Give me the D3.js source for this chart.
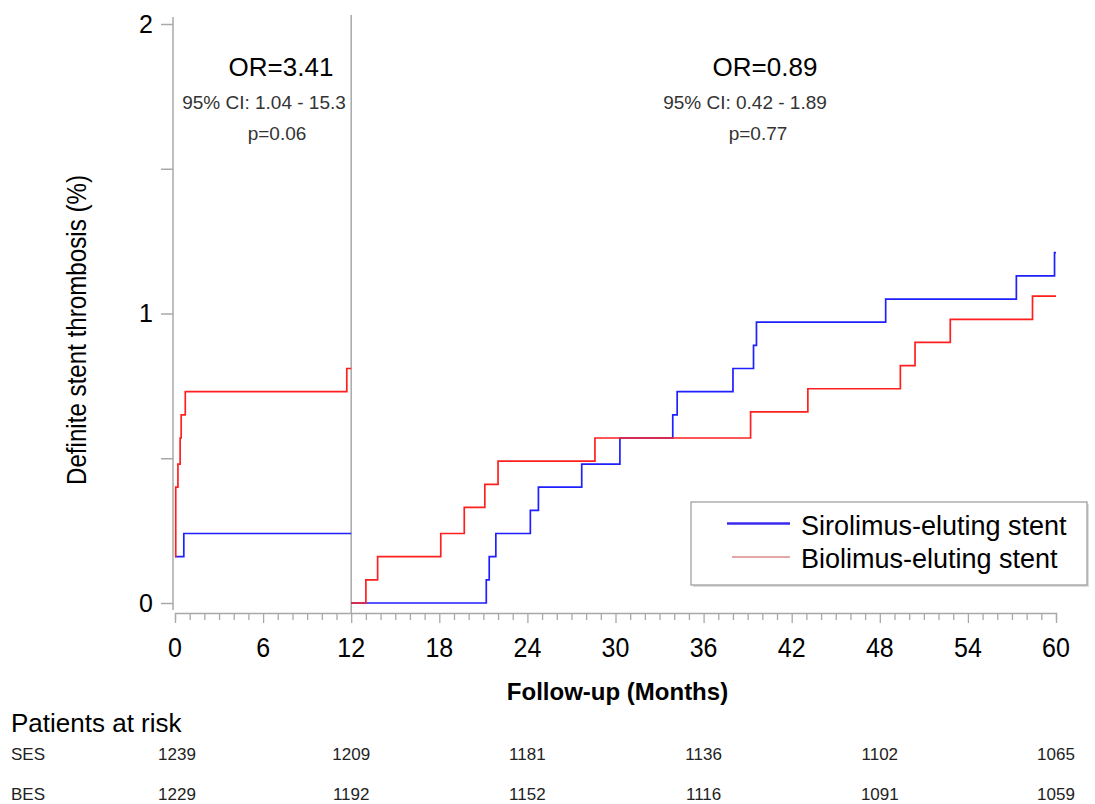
<!DOCTYPE html>
<html>
<head>
<meta charset="utf-8">
<script src="https://cdn.jsdelivr.net/npm/d3@7"></script>
<style>
  body { margin: 0; background: #fff; }
  svg { display: block; font-family: "Liberation Sans", Arial, sans-serif; }
</style>
</head>
<body>
<div id="chart"></div>
<script>
// first year (0-12 months), cumulative definite stent thrombosis in %
const sesYear1Months = [0, 0.6, 12];
const sesYear1Pct = [0.16, 0.24, 0.24];
const besYear1Months = [0, 0.05, 0.2, 0.35, 0.42, 0.7, 11.7, 12];
const besYear1Pct = [0.16, 0.40, 0.48, 0.57, 0.65, 0.73, 0.81, 0.81];

// landmark analysis from 12 to 60 months
const sesLateMonths = [12, 21.2, 21.4, 21.85, 24.2, 24.75, 27.7, 30.3, 33.9, 34.2, 38.0, 39.4, 39.6, 48.4, 57.3, 59.9, 60];
const sesLatePct = [0, 0.08, 0.16, 0.24, 0.32, 0.40, 0.48, 0.57, 0.65, 0.73, 0.81, 0.89, 0.97, 1.05, 1.13, 1.21, 1.21];
const besLateMonths = [12, 13.0, 13.8, 18.1, 19.7, 21.1, 22.0, 28.6, 39.2, 43.1, 49.4, 50.4, 52.8, 58.4, 60];
const besLatePct = [0, 0.08, 0.16, 0.24, 0.33, 0.41, 0.49, 0.57, 0.66, 0.74, 0.82, 0.90, 0.98, 1.06, 1.06];

const xTicks = [0, 6, 12, 18, 24, 30, 36, 42, 48, 54, 60];
const yTicks = [0, 1, 2];

const riskMonths = [0, 12, 24, 36, 48, 60];
const sesAtRisk = [1239, 1209, 1181, 1136, 1102, 1065];
const besAtRisk = [1229, 1192, 1152, 1116, 1091, 1059];

const seriesNames = ["Sirolimus-eluting stent", "Biolimus-eluting stent"];
const early = ["OR=3.41", "95% CI: 1.04 - 15.3", "p=0.06"];
const late = ["OR=0.89", "95% CI: 0.42 - 1.89", "p=0.77"];

const width = 1095, height = 804;
const blue = "#1f1fff", red = "#ff1f1f", axisGrey = "#a8a8a8";

const x = d3.scaleLinear().domain([0, 60]).range([175, 1056]);
const y = d3.scaleLinear().domain([0, 2]).range([603, 24]);

const svg = d3.select("#chart").append("svg")
    .attr("width", width)
    .attr("height", height);

// y axis
const yAxis = svg.append("g")
    .attr("transform", "translate(173,0)")
    .call(d3.axisLeft(y).tickValues(d3.range(0, 2.01, 0.5)).tickSize(12).tickPadding(8)
        .tickFormat(d => yTicks.includes(d) ? d : ""));
yAxis.select(".domain").attr("d", "M0,17V610");
yAxis.selectAll("line, .domain").attr("stroke", axisGrey).attr("stroke-width", 1.5);
yAxis.selectAll("text").attr("font-size", 25).attr("fill", "#000").attr("font-family", null);

// x axis: minor ticks each month, labels every 6
const xAxis = svg.append("g")
    .attr("transform", "translate(0,613)")
    .call(d3.axisBottom(x).tickValues(d3.range(0, 61)).tickSizeOuter(0)
        .tickSize(7).tickPadding(0).tickFormat(""));
xAxis.selectAll(".tick line").filter(d => d % 6 === 0).attr("y2", 10);
xAxis.selectAll("line, .domain").attr("stroke", axisGrey).attr("stroke-width", 1.3);
svg.append("g")
    .selectAll("text")
    .data(xTicks)
    .join("text")
    .attr("transform", d => `translate(${x(d)},657) scale(1,1.12)`)
    .attr("text-anchor", "middle")
    .attr("font-size", 25)
    .text(d => d);

// landmark line at 12 months
svg.append("line")
    .attr("x1", x(12)).attr("x2", x(12))
    .attr("y1", 15).attr("y2", 613)
    .attr("stroke", axisGrey).attr("stroke-width", 1.5);

// axis titles
svg.append("text")
    .attr("transform", `translate(${86},330) rotate(-90)`)
    .attr("text-anchor", "middle")
    .attr("font-size", 27)
    .attr("textLength", 310)
    .attr("lengthAdjust", "spacingAndGlyphs")
    .text("Definite stent thrombosis (%)");

svg.append("text")
    .attr("x", (x(0) + x(60)) / 2 + 2)
    .attr("y", 700)
    .attr("text-anchor", "middle")
    .attr("font-size", 24)
    .attr("font-weight", "bold")
    .text("Follow-up (Months)");

// step curves
const step = d3.line().curve(d3.curveStepAfter).x(d => x(d[0])).y(d => y(d[1]));
const curves = [
    [d3.zip(sesYear1Months, sesYear1Pct), blue],
    [d3.zip(sesLateMonths, sesLatePct), blue],
    [d3.zip(besYear1Months, besYear1Pct), red],
    [d3.zip(besLateMonths, besLatePct), red]
];
svg.append("g")
    .attr("fill", "none")
    .attr("stroke-width", 1.7)
    .selectAll("path")
    .data(curves)
    .join("path")
    .attr("stroke", d => d[1])
    .attr("d", d => step(d[0]));

// odds ratio annotations
const annot = (lines, cx) => {
    const g = svg.append("g").attr("text-anchor", "middle");
    g.append("text").attr("x", cx[0]).attr("y", 76).attr("font-size", 26).text(lines[0]);
    g.append("text").attr("x", cx[1]).attr("y", 109).attr("font-size", 19).attr("fill", "#333").text(lines[1]);
    g.append("text").attr("x", cx[2]).attr("y", 140).attr("font-size", 19).attr("fill", "#333").text(lines[2]);
};
annot(early, [281, 264, 277]);
annot(late, [765, 745, 758]);

// legend
const legend = svg.append("g");
legend.append("rect")
    .attr("x", 693).attr("y", 504).attr("width", 396).attr("height", 83)
    .attr("fill", "#ddd");
legend.append("rect")
    .attr("x", 691).attr("y", 502).attr("width", 396).attr("height", 83)
    .attr("fill", "#fff").attr("stroke", "#999").attr("stroke-width", 1.2);
legend.append("line")
    .attr("x1", 727).attr("x2", 790).attr("y1", 523.5).attr("y2", 523.5)
    .attr("stroke", "#3a2af0").attr("stroke-width", 2.5);
legend.append("line")
    .attr("x1", 732).attr("x2", 790).attr("y1", 557).attr("y2", 557)
    .attr("stroke", "#d05050").attr("stroke-width", 1.2);
legend.selectAll("text.lab")
    .data(seriesNames)
    .join("text")
    .attr("class", "lab")
    .attr("x", 801)
    .attr("y", (d, i) => 535 + i * 33)
    .attr("font-size", 27)
    .text(d => d);

// patients at risk table
svg.append("text")
    .attr("x", 11).attr("y", 732)
    .attr("font-size", 26)
    .text("Patients at risk");
const rows = [["SES", sesAtRisk, 760], ["BES", besAtRisk, 800]];
rows.forEach(([name, vals, yy]) => {
    svg.append("text").attr("x", 11).attr("y", yy).attr("font-size", 17).attr("fill", "#222").text(name);
    svg.append("g").selectAll("text")
        .data(vals)
        .join("text")
        .attr("x", (d, i) => x(riskMonths[i]) + (i === 0 ? 2 : 0))
        .attr("y", yy)
        .attr("text-anchor", "middle")
        .attr("font-size", 17)
        .attr("fill", "#222")
        .text(d => d);
});
</script>
</body>
</html>
